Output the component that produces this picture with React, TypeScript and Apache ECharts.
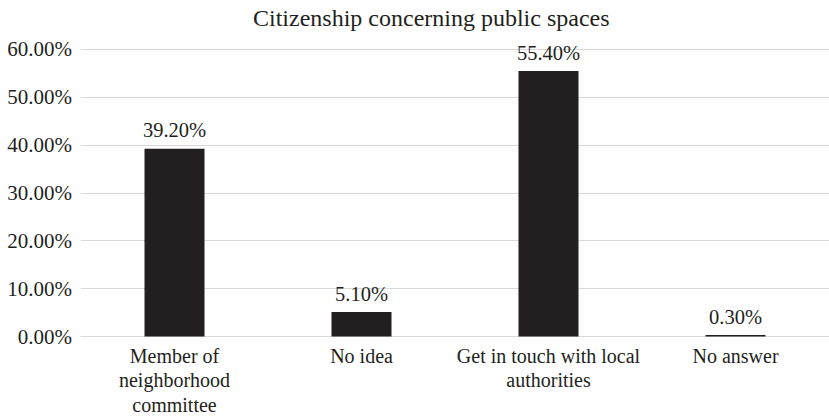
import React, { useEffect, useRef } from "react";
import * as echarts from "echarts";

const categories = [
  "Member of\nneighborhood\ncommittee",
  "No idea",
  "Get in touch with local\nauthorities",
  "No answer",
];
const values = [39.2, 5.1, 55.4, 0.3];
const yTicks = { min: 0, max: 60, interval: 10 };
const titleText = "Citizenship concerning public spaces";

const FONT = "Times New Roman, Liberation Serif, DejaVu Serif, serif";
const TXT = "#231f20";

export default function App() {
  const ref = useRef<HTMLDivElement>(null);
  useEffect(() => {
    if (!ref.current) return;
    const chart = echarts.init(ref.current, undefined, { renderer: "svg" });
    chart.setOption({
      animation: false,
      backgroundColor: "#ffffff",
      textStyle: { fontFamily: FONT },
      title: {
        text: titleText,
        left: 248,
        top: 1,
        textStyle: { fontFamily: FONT, fontSize: 24, fontWeight: "normal", color: TXT },
      },
      grid: { left: 81, top: 49, width: 754, height: 293.5, containLabel: false },
      xAxis: {
        type: "category",
        data: categories,
        axisLine: { show: true, lineStyle: { color: "#d9d9d9", width: 1 } },
        axisTick: { show: false },
        axisLabel: {
          fontFamily: FONT,
          fontSize: 20,
          color: TXT,
          lineHeight: 24.5,
          margin: 7,
          interval: 0,
        },
      },
      yAxis: {
        type: "value",
        min: yTicks.min,
        max: yTicks.max,
        interval: yTicks.interval,
        axisLine: { show: false },
        axisTick: { show: false },
        splitLine: { lineStyle: { color: "#d9d9d9", width: 1 } },
        axisLabel: {
          fontFamily: FONT,
          fontSize: 21,
          color: TXT,
          margin: 9,
          formatter: (v: number) => v.toFixed(2) + "%",
        },
      },
      series: [
        {
          type: "bar",
          data: values,
          barWidth: 60,
          itemStyle: { color: "#231f20" },
          label: {
            show: true,
            position: "top",
            distance: 8,
            fontFamily: FONT,
            fontSize: 20.5,
            color: TXT,
            formatter: (p: any) => Number(p.value).toFixed(2) + "%",
          },
        },
      ],
    });
    return () => chart.dispose();
  }, []);
  return (
    <div
      ref={ref}
      style={{ position: "fixed", left: 0, top: 0, width: 829, height: 417 }}
    />
  );
}
